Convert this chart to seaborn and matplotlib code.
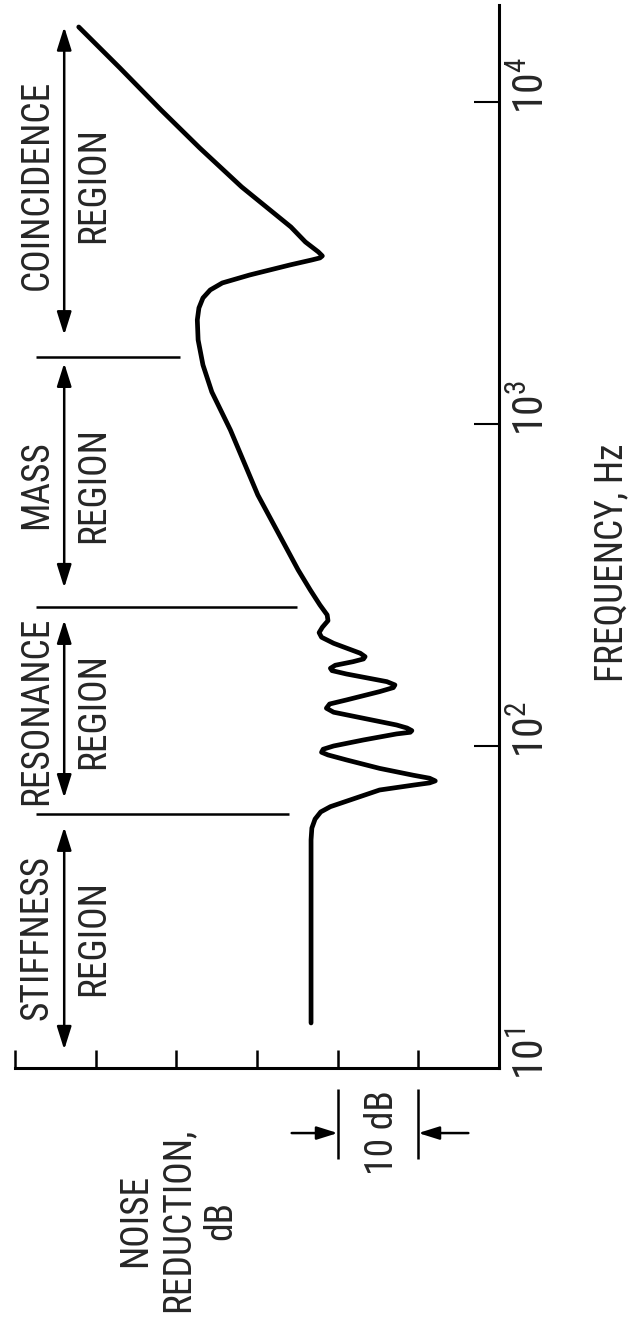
import seaborn as sns
import pandas as pd
import matplotlib.pyplot as plt
from matplotlib import font_manager
from matplotlib.ticker import NullLocator
from matplotlib.transforms import offset_copy

# transmission-loss curve
nr_db = [23.3, 23.3, 23.2, 22.8, 22.1, 20.9, 14.8, 10.6, 8.6, 7.9,
         8.6, 10.6, 14.8, 18.9, 21.2, 22.0, 21.8, 20.5, 16.8, 12.7,
         11.0, 10.8, 11.4, 12.7, 16.8, 20.5, 21.4, 21.0, 18.9, 14.8,
         13.1, 12.9, 13.9, 18.9, 20.7, 20.9, 20.3, 18.1, 16.8, 16.6,
         17.2, 20.5, 22.0, 22.3, 21.9, 21.2, 21.3, 22.2, 23.4, 24.9,
         25.9, 29.9, 33.3, 35.6, 36.7, 37.3, 37.4, 37.2, 36.7, 35.8,
         34.3, 30.9, 25.9, 23.2, 22.2, 21.9, 22.4, 24.0, 25.8, 31.9,
         37.1, 41.9, 47.0, 52.1]
freq_hz = [13.8, 51.1, 55.6, 59.3, 62.4, 64.8, 73.0, 75.6, 76.8, 77.9,
           79.4, 81.1, 85.2, 90.5, 93.8, 95.6, 97.7, 100.0, 104.4, 109.0,
           110.3, 111.6, 113.7, 116.2, 121.9, 127.3, 131.0, 135.0, 139.0, 147.5,
           151.8, 154.7, 158.4, 167.3, 171.4, 174.3, 178.1, 182.7, 186.3, 189.4,
           194.1, 208.4, 217.6, 224.9, 233.7, 245.0, 255.2, 274.1, 305.2, 352.1,
           392.0, 601.9, 958, 1257, 1525, 1824, 2104, 2292, 2462, 2607,
           2741, 2902, 3118, 3231, 3278, 3325, 3422, 3674, 4091, 5445,
           7196, 9445, 12754, 17093]

nr_ticks = [10, 20, 30, 40, 50, 60]
freq_ticks = [10, 100, 1000, 10000]
freq_exps = ['1', '2', '3', '4']

region_names = ['STIFFNESS', 'RESONANCE', 'MASS', 'COINCIDENCE']
region_mid = [25.4, 128.5, 647, 5520]
arrow_lo = [11.4, 69, 310, 1890]
arrow_hi = [56, 246, 1545, 17100]
boundary_freq = [61.5, 270, 1615]
boundary_end = [26.0, 25.0, 39.5]

sns.set_theme(style='white')

# the lettering is tall and narrow: take a condensed face if one is installed
narrow = []
for f in font_manager.fontManager.ttflist:
    if f.style != 'normal' or f.weight not in (400, 'normal', 'regular', 'book'):
        continue
    if f.stretch in ('condensed', 'semi-condensed') or 'Narrow' in f.name \
            or 'Condensed' in f.name:
        narrow.append((f.name, f.stretch))
order = ['Liberation Sans Narrow', 'Roboto Condensed', 'DejaVu Sans',
         'Open Sans Condensed', 'Noto Sans']
narrow.sort(key=lambda t: order.index(t[0]) if t[0] in order else 99)
if narrow:
    family, stretch = narrow[0]
    fs = {'Liberation Sans Narrow': 28, 'DejaVu Sans': 26.5}.get(family, 27)
else:
    family, stretch, fs = 'Roboto', 'normal', 25
plt.rcParams['font.family'] = [family, 'DejaVu Sans']
plt.rcParams['font.stretch'] = stretch
plt.rcParams['mathtext.fontset'] = 'custom'
plt.rcParams['mathtext.rm'] = '%s:stretch=%s' % (family, stretch)

fig = plt.figure(figsize=(6.33, 13.31), dpi=100, facecolor='white')
ax = fig.add_axes([15/633, 263/1331, 484/633, 1063/1331])
ax.set_yscale('log')

df = pd.DataFrame({'nr': nr_db, 'freq': freq_hz})
sns.lineplot(data=df, x='nr', y='freq', orient='y', sort=False,
             color='black', linewidth=3.4, ax=ax,
             solid_joinstyle='round', solid_capstyle='round')
ax.set_xlim(60, 0)
ax.set_ylim(10, 20000)
ax.set_xlabel('')
ax.set_ylabel('')

for s in ['left', 'top']:
    ax.spines[s].set_visible(False)
for s in ['right', 'bottom']:
    ax.spines[s].set_linewidth(2.2)
    ax.spines[s].set_color('black')

ax.set_xticks(nr_ticks)
ax.tick_params(axis='x', direction='in', length=13, width=1.8, color='black',
               bottom=True, labelbottom=False)
ax.yaxis.tick_right()
ax.set_yticks(freq_ticks[1:])
ax.yaxis.set_minor_locator(NullLocator())
ax.tick_params(axis='y', direction='in', length=18, width=1.5, color='black',
               right=True, left=False, labelright=False)

# decade labels, rotated with the rest of the figure
shifted = offset_copy(ax.transData, fig=fig, y=-9, units='points')
for f, e in zip(freq_ticks, freq_exps):
    ax.text(-1.6, f, r'$\mathrm{10^{%s}}$' % e, transform=shifted,
            rotation=90, ha='left', va='bottom', fontsize=fs + 3, clip_on=False)

# region dividers, arrows and names
ax.hlines(boundary_freq, 57.4, boundary_end, color='black', lw=1.8)
for lo, hi in zip(arrow_lo, arrow_hi):
    ax.annotate('', xy=(53.9, hi), xytext=(53.9, lo),
                arrowprops=dict(arrowstyle='<|-|>,head_length=0.7,head_width=0.22',
                                color='black', lw=1.8, shrinkA=0, shrinkB=0,
                                mutation_scale=20))
for name, mid in zip(region_names, region_mid):
    ax.text(57.3, mid, name, rotation=90, ha='center', va='center', fontsize=fs)
    ax.text(50.3, mid, 'REGION', rotation=90, ha='center', va='center', fontsize=fs)

# 10 dB scale marker below the axis
ax.vlines([20, 10], 5.2, 8.6, color='black', lw=1.8, clip_on=False)
for tip, tail in [(20, 25.7), (10, 3.8)]:
    ax.annotate('', xy=(tip, 6.28), xytext=(tail, 6.28), annotation_clip=False,
                arrowprops=dict(arrowstyle='-|>,head_length=0.7,head_width=0.22',
                                color='black', lw=1.8, shrinkA=0, shrinkB=0,
                                mutation_scale=18))
ax.text(14.5, 6.32, '10 dB', rotation=90, ha='center', va='center',
        fontsize=fs, clip_on=False)

ax.text(39.8, 3.37, 'NOISE\nREDUCTION,\ndB', rotation=90, ha='center',
        va='center', multialignment='center', linespacing=1.2, fontsize=fs,
        clip_on=False)
ax.text(-14.0, 372, 'FREQUENCY, Hz', rotation=90, ha='center', va='center',
        fontsize=fs, clip_on=False)

fig.savefig('out.png', dpi=100, facecolor='white')
